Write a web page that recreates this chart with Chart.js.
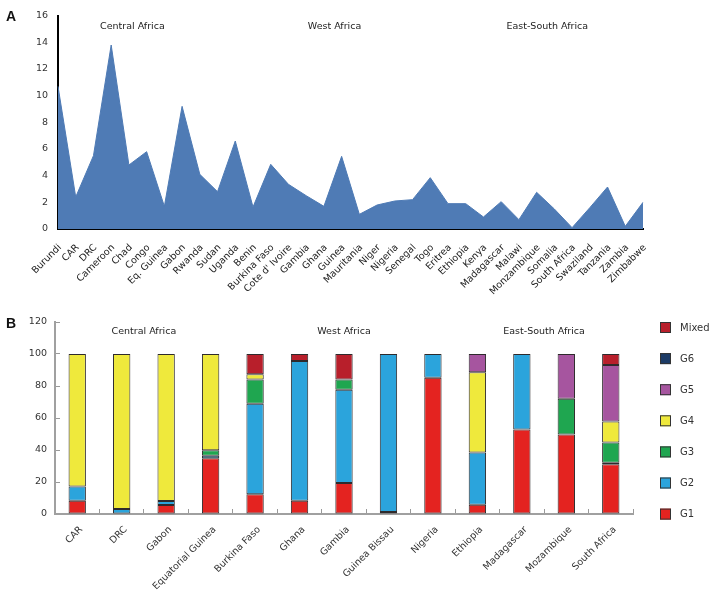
<!DOCTYPE html>
<html>
<head>
<meta charset="utf-8">
<script src="https://cdn.jsdelivr.net/npm/chart.js@4.4.0/dist/chart.umd.min.js"></script>
<style>
  body { margin: 0; background: #fff; }
  #wrap { position: relative; width: 713px; height: 592px; overflow: hidden; }
  canvas { position: absolute; left: 0; }
  #chartA { top: 0; }
  #chartB { top: 300px; }
  .panel { position: absolute; left: 6px; font: bold 14px "Liberation Sans", Arial, sans-serif; color: #111; line-height: 14px; }
</style>
</head>
<body>
<div id="wrap">
  <canvas id="chartA" width="713" height="300"></canvas>
  <canvas id="chartB" width="713" height="292"></canvas>
  <div class="panel" style="top:9px">A</div>
  <div class="panel" style="top:316px">B</div>
</div>
<script>
var countriesA = ['Burundi', 'CAR', 'DRC', 'Cameroon', 'Chad', 'Congo', 'Eq. Guinea', 'Gabon', 'Rwanda', 'Sudan', 'Uganda',
    'Benin', 'Burkina Faso', "Cote d' Ivoire", 'Gambia', 'Ghana', 'Guinea', 'Mauritania', 'Niger', 'Nigeria', 'Senegal', 'Togo',
    'Eritrea', 'Ethiopia', 'Kenya', 'Madagascar', 'Malawi', 'Monzambique', 'Somalia', 'South Africa', 'Swaziland', 'Tanzania', 'Zambia', 'Zimbabwe'];
var countA = [10.7, 2.4, 5.5, 13.8, 4.8, 5.8, 1.7, 9.2, 4.1, 2.8, 6.6,
    1.65, 4.85, 3.35, 2.5, 1.7, 5.45, 1.1, 1.8, 2.1, 2.2, 3.85,
    1.9, 1.9, 0.9, 2.05, 0.7, 2.75, 1.5, 0.1, 1.6, 3.15, 0.2, 2.0];
var ticksA = [0, 2, 4, 6, 8, 10, 12, 14, 16];

var regions = ['Central Africa', 'West Africa', 'East-South Africa'];

var countriesB = ['CAR', 'DRC', 'Gabon', 'Equatorial Guinea', 'Burkina Faso', 'Ghana', 'Gambia', 'Guinea Bissau',
    'Nigeria', 'Ethiopia', 'Madagascar', 'Mozambique', 'South Africa'];
var g1 = [8.3, 0, 5.6, 34.8, 12.4, 8.3, 19.3, 1.2, 85.1, 5.8, 52.8, 49.7, 31.1];
var g2 = [8.9, 3.1, 2.5, 1.6, 56.5, 87.4, 58.3, 98.8, 14.9, 32.7, 47.2, 0, 1.0];
var g3 = [0, 0, 0, 3.4, 15.2, 0, 6.5, 0, 0, 0, 0, 22.3, 12.6];
var g4 = [82.8, 96.9, 91.9, 60.2, 3.3, 0, 0, 0, 0, 50.1, 0, 0, 13.1];
var g5 = [0, 0, 0, 0, 0, 0, 0, 0, 0, 11.4, 0, 28.0, 35.4];
var g6 = [0, 0, 0, 0, 0, 0, 0, 0, 0, 0, 0, 0, 0];
var mixed = [0, 0, 0, 0, 12.6, 4.3, 15.9, 0, 0, 0, 0, 0, 6.8];
var ticksB = [0, 20, 40, 60, 80, 100, 120];

var FONT = '"DejaVu Sans", Verdana, sans-serif';

// region captions placed on the data scales
var regionLabels = {
    id: 'regionLabels',
    afterDatasetsDraw: function (chart, args, opts) {
        var ctx = chart.ctx;
        var xs = chart.scales.x, ys = chart.scales.y;
        ctx.save();
        ctx.font = '9.5px ' + FONT;
        ctx.fillStyle = '#222';
        ctx.textAlign = 'center';
        ctx.textBaseline = 'middle';
        regions.forEach(function (r, i) {
            ctx.fillText(r, xs.getPixelForValue(opts.at[i]), ys.getPixelForValue(opts.y));
        });
        ctx.restore();
    }
};

// legend on the right, top item = last dataset
var sideLegend = {
    id: 'sideLegend',
    afterDraw: function (chart) {
        var ctx = chart.ctx;
        var area = chart.chartArea;
        var sets = chart.data.datasets.slice().reverse();
        ctx.save();
        ctx.font = '10px ' + FONT;
        ctx.textBaseline = 'middle';
        ctx.textAlign = 'left';
        sets.forEach(function (ds, i) {
            var x = area.right + 27, y = area.top + i * 31.1;
            ctx.fillStyle = ds.backgroundColor;
            ctx.fillRect(x, y, 11, 11);
            ctx.strokeStyle = '#333';
            ctx.lineWidth = 1;
            ctx.strokeRect(x + 0.5, y + 0.5, 10, 10);
            ctx.fillStyle = '#333';
            ctx.fillText(ds.label, x + 20, y + 6);
        });
        ctx.restore();
    }
};

new Chart(document.getElementById('chartA'), {
    type: 'line',
    data: {
        labels: countriesA,
        datasets: [{
            data: countA,
            fill: 'origin',
            backgroundColor: '#4f7bb5',
            borderColor: '#4f7bb5',
            borderWidth: 1,
            pointRadius: 0,
            tension: 0
        }]
    },
    plugins: [regionLabels],
    options: {
        responsive: false,
        animation: false,
        layout: { padding: { top: 12, right: 70, left: 0, bottom: 0 } },
        plugins: {
            legend: { display: false },
            tooltip: { enabled: false },
            regionLabels: { at: [4.2, 15.6, 27.6], y: 15.2 }
        },
        scales: {
            x: {
                grid: { display: false, drawTicks: false },
                border: { display: true, color: '#000', width: 2 },
                ticks: {
                    autoSkip: false, maxRotation: 45, minRotation: 45, padding: 13, labelOffset: 2,
                    color: '#222', font: { family: FONT, size: 9.5 }
                },
                afterFit: function (s) { s.height = 71; }
            },
            y: {
                min: 0, max: 16,
                grid: { display: false, drawTicks: false },
                border: { display: true, color: '#000', width: 2 },
                ticks: { padding: 10, color: '#333', font: { family: FONT, size: 9.5 } },
                afterBuildTicks: function (s) { s.ticks = ticksA.map(function (v) { return { value: v }; }); },
                afterFit: function (s) { s.width = 58; }
            }
        }
    }
});

function barSet(label, values, color) {
    return {
        label: label,
        data: values,
        backgroundColor: color,
        borderColor: '#2e2a2c',
        borderWidth: function (c) { return c.raw ? 1 : 0; },
        borderSkipped: false,
        barPercentage: 0.39,
        categoryPercentage: 1.0
    };
}

new Chart(document.getElementById('chartB'), {
    type: 'bar',
    data: {
        labels: countriesB,
        datasets: [
            barSet('G1', g1, '#e42320'),
            barSet('G2', g2, '#2ba4dc'),
            barSet('G3', g3, '#1fa650'),
            barSet('G4', g4, '#efe93c'),
            barSet('G5', g5, '#a6559f'),
            barSet('G6', g6, '#1c3b66'),
            barSet('Mixed', mixed, '#b81f2b')
        ]
    },
    plugins: [regionLabels, sideLegend],
    options: {
        responsive: false,
        animation: false,
        layout: { padding: { top: 22, right: 80, left: 0, bottom: 0 } },
        plugins: {
            legend: { display: false },
            tooltip: { enabled: false },
            regionLabels: { at: [1.5, 6, 10.5], y: 113.8 }
        },
        scales: {
            x: {
                stacked: true,
                grid: { display: true, drawOnChartArea: false, offset: true, tickLength: -5, color: '#999', lineWidth: 1 },
                border: { display: true, color: '#a0a0a0', width: 2 },
                ticks: {
                    autoSkip: false, maxRotation: 45, minRotation: 45, padding: 15, labelOffset: 4,
                    color: '#333', font: { family: FONT, size: 9.5 }
                },
                afterFit: function (s) { s.height = 78; }
            },
            y: {
                stacked: true,
                min: 0, max: 120,
                grid: { display: true, drawOnChartArea: false, tickLength: -5, color: '#999', lineWidth: 1 },
                border: { display: true, color: '#a0a0a0', width: 2 },
                ticks: { padding: 13, color: '#333', font: { family: FONT, size: 9.5 } },
                afterBuildTicks: function (s) { s.ticks = ticksB.map(function (v) { return { value: v }; }); },
                afterFit: function (s) { s.width = 55; }
            }
        }
    }
});
</script>
</body>
</html>
